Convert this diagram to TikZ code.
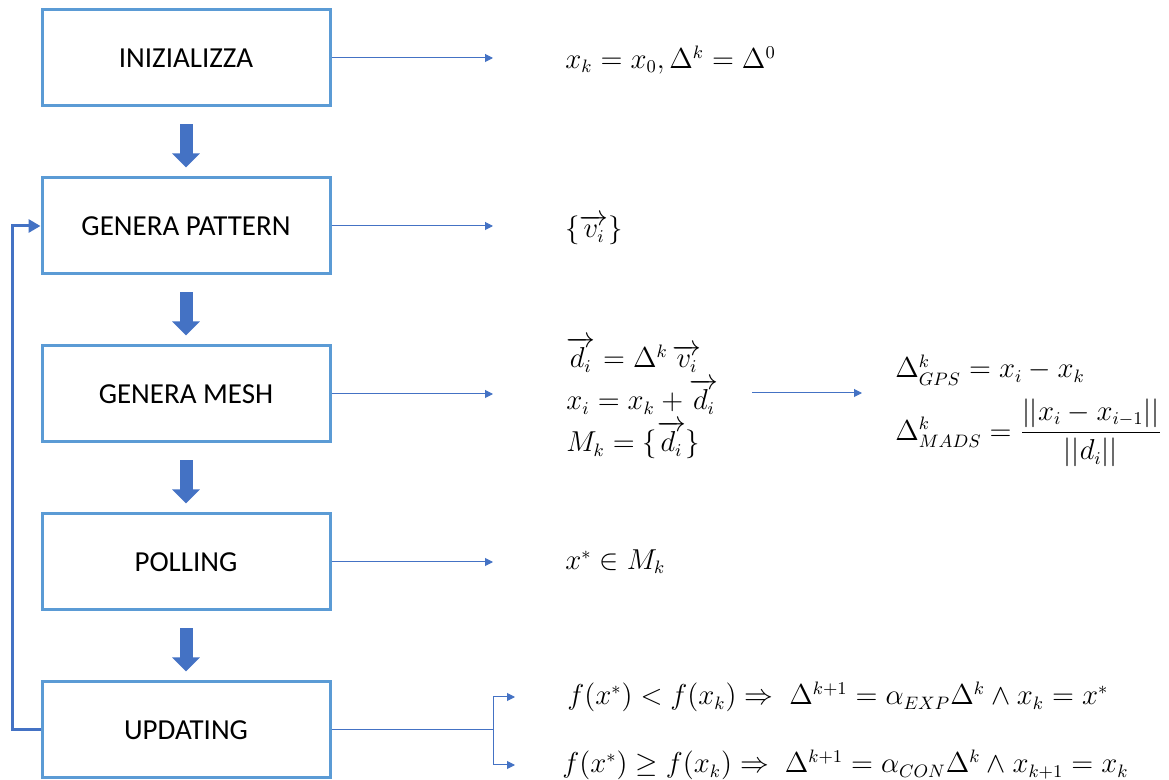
\documentclass[tikz,border=0pt]{standalone}
\usepackage{amsmath}
\usepackage{fontspec}
\setmainfont{Carlito}
\usetikzlibrary{arrows.meta}
\definecolor{boxblue}{RGB}{91,155,213}
\definecolor{arrblue}{RGB}{68,114,196}
\begin{document}
\begin{tikzpicture}[x=0.5pt, y=-0.5pt,
  stepbox/.style={draw=boxblue, line width=1.5pt, minimum width=144pt, minimum height=48pt,
    font=\fontsize{14.5}{16}\selectfont},
  mathtext/.style={anchor=west, inner sep=0pt, font=\fontsize{13.5}{16}\selectfont},
  fat/.style={arrblue, line width=6.5pt, -{Triangle[length=7pt, width=13.5pt]}},
  thinarrow/.style={arrblue, line width=0.5pt, -{Triangle[length=4pt, width=4pt]}},
  back/.style={arrblue, line width=1.5pt, -{Triangle[length=6pt, width=6.5pt]}}]
  \useasboundingbox (0,0) rectangle (1169,780);
  % the five steps
  \node[stepbox] (init) at (186,58) {INIZIALIZZA};
  \node[stepbox] (pat) at (186,226) {GENERA PATTERN};
  \node[stepbox] (mesh) at (186,394) {GENERA MESH};
  \node[stepbox] (poll) at (186,562) {POLLING};
  \node[stepbox] (upd) at (186,730) {UPDATING};
  \draw[fat] ([yshift=-8.5pt]init.south) -- ([yshift=4.5pt]pat.north);
  \draw[fat] ([yshift=-8.5pt]pat.south) -- ([yshift=4.5pt]mesh.north);
  \draw[fat] ([yshift=-8.5pt]mesh.south) -- ([yshift=4.5pt]poll.north);
  \draw[fat] ([yshift=-8.5pt]poll.south) -- ([yshift=4.5pt]upd.north);
  % loop back
  \coordinate (c1) at (12,730);
  \coordinate (c2) at (12,226);
  \draw[back] (upd.west) -- (c1) -- (c2) -- (pat.west);
  % formulas
  \node[mathtext] (m1) at (565,60) {$x_k = x_0, \Delta^k = \Delta^0$};
  \node[mathtext] (m2) at (565,230) {$\{\overrightarrow{v_i}\}$};
  \node[mathtext, align=left, font=\fontsize{13.5}{21}\selectfont] (m3) at (566,398)
    {$\overrightarrow{d_i} = \Delta^k\, \overrightarrow{v_i}$\\
     $x_i = x_k + \overrightarrow{d_i}$\\
     $M_k = \{\overrightarrow{d_i}\}$};
  \node[mathtext] (m4) at (895,370) {$\Delta^k_{GPS} = x_i - x_k$};
  \node[mathtext] (m5) at (895,433) {$\Delta^k_{MADS} = \dfrac{||x_i - x_{i-1}||}{||d_i||}$};
  \node[mathtext] (m6) at (565,562) {$x^* \in M_k$};
  \node[mathtext] (m7) at (567,697) {$f(x^*) < f(x_k) \Rightarrow\; \Delta^{k+1} = \alpha_{EXP}\Delta^k \wedge x_k = x^*$};
  \node[mathtext] (m8) at (562,765) {$f(x^*) \geq f(x_k) \Rightarrow\; \Delta^{k+1} = \alpha_{CON}\Delta^k \wedge x_{k+1} = x_k$};
  % thin arrows
  \coordinate (e1) at (493,58);
  \coordinate (e2) at (493,226);
  \coordinate (e3) at (493,394);
  \coordinate (e4) at (493,562);
  \coordinate (s3) at (752,393);
  \coordinate (t3) at (862,393);
  \draw[thinarrow] (init.east) -- (e1);
  \draw[thinarrow] (pat.east) -- (e2);
  \draw[thinarrow] (mesh.east) -- (e3);
  \draw[thinarrow] (s3) -- (t3);
  \draw[thinarrow] (poll.east) -- (e4);
  \coordinate (split) at (493,730);
  \coordinate (b1) at (515,697);
  \coordinate (b2) at (515,765);
  \draw[arrblue, line width=0.5pt] (upd.east) -- (split);
  \draw[thinarrow] (split) |- (b1);
  \draw[thinarrow] (split) |- (b2);
\end{tikzpicture}
\end{document}
